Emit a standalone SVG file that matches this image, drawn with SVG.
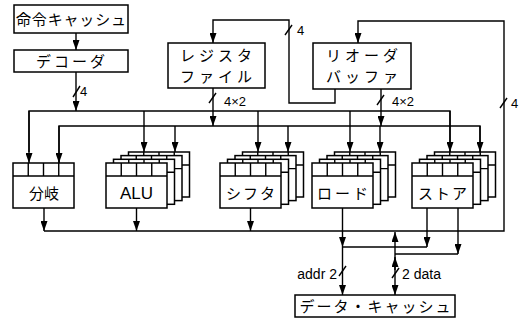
<svg xmlns="http://www.w3.org/2000/svg" xmlns:xlink="http://www.w3.org/1999/xlink" width="522" height="326" viewBox="0 0 522 326">
<style>
.b{fill:#fff;stroke:#000;stroke-width:1.5}
.l{fill:none;stroke:#000;stroke-width:1.4}
.a{fill:none;stroke:#000;stroke-width:1.4;marker-end:url(#ah)}
.j{font-family:"Noto Sans CJK JP","Noto Sans",sans-serif;font-size:15px;fill:#000;text-anchor:middle}
.e{font-family:"Liberation Sans",Arial,sans-serif;fill:#000}
</style>
<defs>
<marker id="ah" viewBox="0 0 10 7" refX="10" refY="3.5" markerWidth="10" markerHeight="7" orient="auto" markerUnits="userSpaceOnUse"><path d="M0,0 L10,3.5 L0,7 z" fill="#000"/></marker>
<g id="frame"><rect x="0" y="0" width="61" height="45" class="b"/><path d="M0,13H61M15.25,0V13M30.5,0V13M45.75,0V13" class="l"/></g>
<g id="stack"><use xlink:href="#frame" x="22.5" y="-11"/><use xlink:href="#frame" x="15" y="-7.4"/><use xlink:href="#frame" x="7.5" y="-3.7"/><use xlink:href="#frame" x="0" y="0"/></g>
</defs>
<rect width="522" height="326" fill="#fff"/>
<g id="connectors">
<path d="M76,33V50" class="a"/>
<path d="M76,72V111" class="a"/>
<path d="M73,97L80,86" class="l"/>
<path d="M213,88V126" class="a"/>
<path d="M209,103L216,93" class="l"/>
<path d="M381,89V126" class="a"/>
<path d="M377,105L384,95" class="l"/>
<path d="M335,89V103H289V20H213V43" class="a"/>
<path d="M285,35L292,25" class="l"/>
<path d="M44,231H504V21H358V43" class="a"/>
<path d="M500,108L507,98" class="l"/>
<path d="M29,152V111H450V152" class="l"/>
<path d="M29,111V163" class="a"/>
<path d="M59,163V126H480V152" class="l"/>
<path d="M59,126V163" class="a"/>
<path d="M144,111V152" class="a"/>
<path d="M175,126V152" class="a"/>
<path d="M258,111V152" class="a"/>
<path d="M288,126V152" class="a"/>
<path d="M350,111V152" class="a"/>
<path d="M380,126V152" class="a"/>
<path d="M450,111V152" class="a"/>
<path d="M480,126V152" class="a"/>
<path d="M44,208V231" class="a"/>
<path d="M136.5,208V231" class="a"/>
<path d="M250.5,208V231" class="a"/>
<path d="M342.5,208V247" class="a"/>
<path d="M342.5,247V295" class="a"/>
<path d="M339,276L346,266" class="l"/>
<path d="M427,208V247" class="a"/>
<path d="M427,247H342.5" class="l"/>
<path d="M458,208V254" class="a"/>
<path d="M458,254H395" class="l"/>
<path d="M395,254V232" class="a"/>
<path d="M395,270V257" class="a"/>
<path d="M395,254V295" class="a"/>
<path d="M392,278L399,268" class="l"/>
</g>
<g id="icache"><rect x="14" y="5" width="114" height="28" class="b"/><text x="71" y="25" class="j" font-size="16" textLength="110" lengthAdjust="spacing">命令キャッシュ</text></g>
<g id="decoder"><rect x="14" y="50" width="114" height="22" class="b"/><text x="72" y="66.5" class="j" letter-spacing="3">デコーダ</text></g>
<g id="regfile"><rect x="168" y="43" width="97" height="45" class="b"/><text x="218" y="61" class="j" letter-spacing="4">レジスタ</text><text x="218" y="82" class="j" letter-spacing="4">ファイル</text></g>
<g id="rob"><rect x="313" y="43" width="98" height="46" class="b"/><text x="364" y="61" class="j" letter-spacing="4">リオーダ</text><text x="364" y="82" class="j" letter-spacing="4">バッファ</text></g>
<g id="branch"><use xlink:href="#frame" x="13" y="163"/><text x="44" y="199" class="j" font-size="16">分岐</text></g>
<g id="alu"><use xlink:href="#stack" x="106" y="163"/><text x="136.5" y="199" class="e" font-size="17" text-anchor="middle">ALU</text></g>
<g id="shifter"><use xlink:href="#stack" x="220" y="163"/><text x="251.5" y="199" class="j" font-size="16" letter-spacing="2">シフタ</text></g>
<g id="load"><use xlink:href="#stack" x="312" y="163"/><text x="344" y="199" class="j" font-size="16" letter-spacing="3">ロード</text></g>
<g id="store"><use xlink:href="#stack" x="412" y="163"/><text x="443.5" y="199" class="j" font-size="16" letter-spacing="2">ストア</text></g>
<g id="dcache"><rect x="295" y="295" width="160" height="22" class="b"/><text x="376" y="311.5" class="j" font-size="14" letter-spacing="2">データ・キャッシュ</text></g>
<g id="labels" class="e" font-size="13">
<text x="80" y="96">4</text>
<text x="224" y="106">4×2</text>
<text x="392" y="106">4×2</text>
<text x="297" y="35">4</text>
<text x="511" y="108">4</text>
<text x="337" y="279" text-anchor="end" font-size="14">addr 2</text>
<text x="402" y="279" font-size="14">2 data</text>
</g>
</svg>
